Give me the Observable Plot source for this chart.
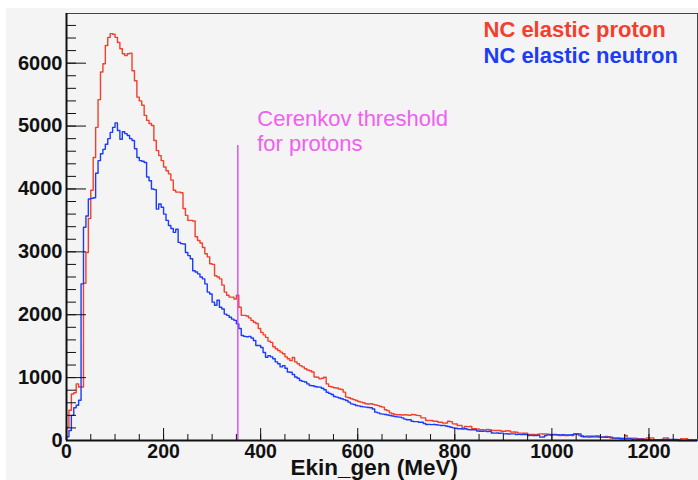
<!DOCTYPE html>
<html><head><meta charset="utf-8">
<script src="https://cdn.jsdelivr.net/npm/d3@7"></script>
<script src="https://cdn.jsdelivr.net/npm/@observablehq/plot@0.6"></script>
<style>body{margin:0;background:#fff;}</style>
</head><body><div id="chart"></div>
<script>
const binWidth = 5; // MeV per bin, bins start at 0
const xDomain = [0, 1300];
const yDomain = [0, 6790];

const protonCounts = [
  210, 480, 740, 760, 900, 850, 850, 2500, 2990, 3530, 3980, 4500, 4980, 5420, 5860, 5990, 6280, 6410, 6470, 6460,
  6410, 6330, 6230, 6150, 6120, 6150, 6160, 5880, 5720, 5460, 5400, 5330, 5170, 5090, 5040, 5010, 4770, 4610, 4530, 4450,
  4350, 4290, 4240, 4140, 3980, 3950, 3950, 3940, 3690, 3580, 3500, 3500, 3490, 3240, 3180, 3140, 3070, 2970, 2920, 2810,
  2800, 2620, 2600, 2570, 2470, 2360, 2310, 2280, 2280, 2250, 2310, 2120, 1990, 1990, 1980, 1950, 1910, 1880, 1860, 1780,
  1720, 1680, 1640, 1580, 1560, 1490, 1460, 1430, 1405, 1380, 1330, 1300, 1270, 1320, 1250, 1220, 1190, 1170, 1140, 1120,
  1110, 1090, 1010, 1005, 980, 990, 1005, 900, 860, 850, 840, 835, 820, 810, 770, 690, 680, 665, 650, 635,
  620, 610, 600, 585, 580, 585, 575, 565, 555, 540, 530, 490, 475, 440, 425, 415, 410, 410, 405, 410,
  405, 400, 413, 410, 400, 395, 360, 360, 318, 320, 318, 307, 305, 291, 290, 276, 278, 307, 300, 265,
  262, 239, 240, 201, 223, 220, 222, 186, 188, 185, 170, 172, 168, 175, 172, 159, 160, 158, 159, 148,
  146, 155, 150, 133, 135, 132, 117, 118, 116, 117, 95, 96, 95, 94, 100, 106, 104, 106, 100, 95,
  95, 96, 94, 80, 82, 80, 78, 82, 80, 106, 100, 80, 78, 53, 55, 52, 55, 53, 56, 52,
  53, 54, 64, 62, 37, 38, 36, 37, 38, 37, 80, 37, 36, 38, 37, 27, 28, 27, 26, 42,
  40, 42, 11, 12, 11, 10, 42, 40, 11, 12, 10, 11, 11, 27, 26, 28, 11, 12, 10, 11
];
const neutronCounts = [
  60, 160, 400, 520, 560, 640, 2490, 3390, 3570, 3840, 3850, 3860, 4250, 4450, 4560, 4630, 4710, 4800, 4900, 4980,
  5050, 4930, 4790, 4910, 4880, 4850, 4800, 4770, 4640, 4500, 4450, 4440, 4420, 4190, 4130, 4000, 3990, 3680, 3760, 3710,
  3600, 3500, 3420, 3370, 3310, 3360, 3150, 3130, 3125, 2990, 2940, 2890, 2700, 2680, 2650, 2600, 2570, 2490, 2360, 2330,
  2200, 2150, 2230, 2120, 2090, 2010, 1990, 1960, 1930, 1910, 1855, 1780, 1670, 1655, 1650, 1655, 1630, 1590, 1510, 1510,
  1480, 1400, 1325, 1350, 1330, 1300, 1250, 1220, 1170, 1190, 1150, 1090, 1085, 1050, 1010, 990, 955, 940, 930, 900,
  875, 870, 858, 850, 848, 830, 806, 768, 750, 731, 700, 690, 675, 663, 650, 636, 610, 583, 575, 557,
  550, 541, 535, 530, 525, 520, 500, 451, 440, 424, 420, 413, 405, 398, 390, 382, 375, 371, 360, 340,
  329, 329, 307, 300, 300, 291, 291, 270, 254, 256, 252, 254, 250, 245, 239, 241, 230, 223, 210, 201,
  195, 186, 188, 184, 186, 175, 172, 170, 171, 150, 148, 146, 149, 144, 147, 120, 117, 119, 116, 117,
  106, 108, 104, 106, 105, 95, 97, 93, 95, 96, 80, 82, 79, 80, 81, 53, 55, 80, 90, 88,
  90, 92, 88, 90, 92, 90, 88, 90, 91, 106, 104, 106, 64, 66, 69, 70, 68, 69, 71, 69,
  53, 55, 52, 53, 54, 37, 38, 36, 27, 28, 27, 26, 27, 21, 22, 21, 20, 21, 11, 12,
  11, 10, 11, 12, 11, 16, 17, 16, 15, 16, 17, 16, 0, 0, 0, 0, 0, 0, 0, 0
];

const seriesNames = ["NC elastic proton", "NC elastic neutron"];
const seriesColors = ["#f2402c", "#1c3cf8"];
const cerenkovThreshold = 353;
const cerenkovLineTop = 4690;
const cerenkovLabel = "Cerenkov threshold\nfor protons";
const cerenkovLabelX = 393;
const cerenkovLabelY = 4610;
const xLabel = "Ekin_gen (MeV)";
const xMajorTicks = [0, 200, 400, 600, 800, 1000, 1200];
const xMinorTicks = [0, 50, 100, 150, 200, 250, 300, 350, 400, 450, 500, 550, 600, 650, 700, 750, 800, 850, 900, 950, 1000, 1050, 1100, 1150, 1200, 1250];
const yMajorTicks = [0, 1000, 2000, 3000, 4000, 5000, 6000];
const yMinorTicks = [0, 200, 400, 600, 800, 1000, 1200, 1400, 1600, 1800, 2000, 2200, 2400, 2600, 2800, 3000, 3200, 3400, 3600, 3800, 4000, 4200, 4400, 4600, 4800, 5000, 5200, 5400, 5600, 5800, 6000, 6200, 6400, 6600];

function steps(counts) {
  const pts = [{x: 0, y: 0}];
  counts.forEach((c, i) => pts.push({x: i * binWidth, y: c}));
  pts.push({x: counts.length * binWidth, y: counts[counts.length - 1]});
  return pts;
}

const font = "'Liberation Sans', Arial, Helvetica, sans-serif";
const axisColor = "#111";

const chart = Plot.plot({
  width: 698,
  height: 480,
  marginLeft: 66,
  marginTop: 13,
  marginRight: 1,
  marginBottom: 40,
  x: {domain: xDomain},
  y: {domain: yDomain},
  style: {
    background: "linear-gradient(to right, #fff 6px, transparent 6px), linear-gradient(#fff 8px, #f4f4f4 8px)",
    fontFamily: font,
    overflow: "visible",
    color: axisColor
  },
  marks: [
    Plot.frame({stroke: "#444", strokeWidth: 1}),
    Plot.lineY(steps(protonCounts), {x: "x", y: "y", curve: "step-after", stroke: seriesColors[0], strokeWidth: 1.4}),
    Plot.lineY(steps(neutronCounts), {x: "x", y: "y", curve: "step-after", stroke: seriesColors[1], strokeWidth: 1.4}),
    Plot.ruleX([cerenkovThreshold], {y1: 0, y2: cerenkovLineTop, stroke: "#d840e8", strokeWidth: 1.3}),
    Plot.text([cerenkovLabel], {x: cerenkovLabelX, y: cerenkovLabelY, text: d => d, textAnchor: "start", lineAnchor: "bottom", fontSize: 22, lineHeight: 1.14, fill: "#f060f0"}),
    Plot.text([seriesNames[0]], {frameAnchor: "top-left", dx: 417, dy: 23, text: d => d, textAnchor: "start", lineAnchor: "bottom", fontSize: 22, fontWeight: "bold", fill: seriesColors[0]}),
    Plot.text([seriesNames[1]], {frameAnchor: "top-left", dx: 417, dy: 49.7, text: d => d, textAnchor: "start", lineAnchor: "bottom", fontSize: 22, fontWeight: "bold", fill: seriesColors[1]}),
    Plot.axisY({ticks: yMinorTicks, tickSize: -10, fill: "none", label: null, stroke: axisColor}),
    Plot.axisY({ticks: yMajorTicks, tickSize: -20, fill: "none", label: null, stroke: axisColor}),
    Plot.axisY({ticks: yMajorTicks, tickSize: 0, tickPadding: 4, label: null, fontSize: 20, fontWeight: "bold", fill: axisColor, tickFormat: d => String(d)}),
    Plot.axisX({ticks: xMinorTicks, tickSize: -6, fill: "none", label: null, stroke: axisColor}),
    Plot.axisX({ticks: xMajorTicks, tickSize: -12, fill: "none", label: null, stroke: axisColor}),
    Plot.axisX({ticks: xMajorTicks, tickSize: 0, tickPadding: 4, label: null, fontSize: 19.5, fontWeight: "bold", fill: axisColor, tickFormat: d => String(d)}),
    Plot.ruleX([0], {stroke: axisColor, strokeWidth: 2}),
    Plot.ruleY([0], {stroke: axisColor, strokeWidth: 2}),
    Plot.text([xLabel], {frameAnchor: "bottom-left", dx: 224, dy: 34.5, text: d => d, textAnchor: "start", lineAnchor: "bottom", fontSize: 22.5, fontWeight: "bold", fill: axisColor})
  ]
});
document.getElementById("chart").appendChild(chart);
</script>
</body></html>
